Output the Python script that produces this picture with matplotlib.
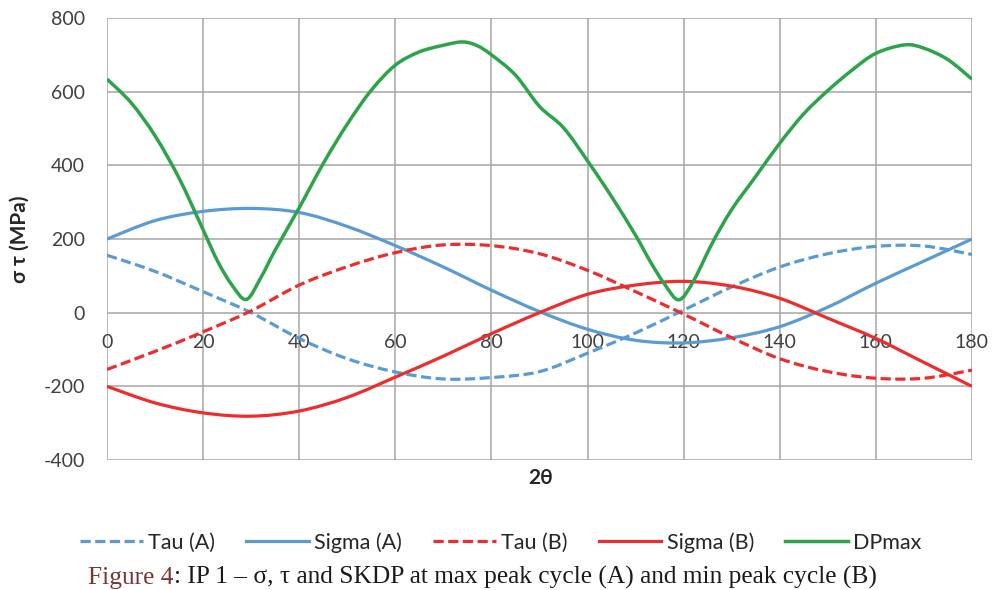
import numpy as np
import matplotlib.pyplot as plt
from matplotlib.path import Path
from matplotlib.patches import PathPatch
from matplotlib.lines import Line2D

plt.rcParams['font.family'] = ['Lato', 'DejaVu Sans']
plt.rcParams['axes.unicode_minus'] = False

# 2theta positions and values (MPa)
theta = [0, 10, 20, 30, 40, 50, 60, 70, 80, 90, 100, 110, 120, 130, 140, 150, 160, 170, 180]
tau_a = [156, 112, 57, 0, -70, -125, -161, -180, -176, -160, -110, -55, 7, 70, 124, 160, 180, 181, 158]
sigma_a = [200, 250, 275, 283, 272, 234, 182, 124, 61, 3, -45, -75, -82, -68, -38, 15, 80, 140, 200]
tau_b = [-154, -105, -52, 5, 75, 125, 163, 184, 182, 160, 115, 57, -4, -68, -125, -160, -178, -178, -156]
sigma_b = [-200, -245, -272, -281, -267, -230, -175, -118, -57, 0, 50, 75, 85, 72, 39, -15, -70, -135, -200]

theta_dp = [0, 5, 10, 15, 20, 23, 26, 29, 32, 35, 40, 45, 50, 55, 60, 65, 70, 74, 77, 80,
            85, 90, 95, 100, 105, 110, 113, 116, 119, 122, 126, 130, 135, 140, 145, 150,
            155, 160, 166, 170, 175, 180]
dp_max = [634, 570, 480, 365, 225, 140, 75, 36, 95, 170, 285, 405, 512, 604, 672, 708, 726, 735, 725, 700,
          645, 560, 502, 412, 315, 210, 140, 78, 35, 85, 190, 280, 370, 460, 540, 603,
          658, 704, 727, 718, 687, 634]

blue = '#5B9BD5'
red = '#EE2C2C'
green = '#2DA449'
dash = (0, (3.2, 1.4))


def smooth_path(x, y):
    # Excel-style smoothed line: cubic bezier between the data points
    p = np.column_stack([x, y]).astype(float)
    ext = np.vstack([p[0], p, p[-1]])
    verts = [p[0]]
    codes = [Path.MOVETO]
    for i in range(len(p) - 1):
        c1 = ext[i + 1] + (ext[i + 2] - ext[i]) / 6
        c2 = ext[i + 2] - (ext[i + 3] - ext[i + 1]) / 6
        verts += [c1, c2, p[i + 1]]
        codes += [Path.CURVE4] * 3
    return Path(verts, codes)


fig = plt.figure(figsize=(9.92, 5.90), dpi=100)
ax = fig.add_axes([0.1079, 0.2203, 0.8719, 0.7492])

series = [
    (theta, tau_a, blue, dash, 2.3, 'Tau (A)'),
    (theta, sigma_a, blue, '-', 2.3, 'Sigma (A)'),
    (theta, tau_b, red, dash, 2.3, 'Tau (B)'),
    (theta, sigma_b, red, '-', 2.3, 'Sigma (B)'),
    (theta_dp, dp_max, green, '-', 2.5, 'DPmax'),
]
handles = []
for x, y, c, ls, lw, lab in series:
    ax.add_patch(PathPatch(smooth_path(x, y), fill=False, edgecolor=c, lw=lw,
                           linestyle=ls, capstyle='butt', joinstyle='round'))
    handles.append(Line2D([], [], color=c, lw=lw, linestyle=ls, label=lab))

ax.set_xlim(0, 180)
ax.set_ylim(-400, 800)
ax.set_xticks(range(0, 181, 20))
ax.set_yticks(range(-400, 801, 200))
ax.grid(True, color='#A6A6A6', lw=1.1)
ax.set_axisbelow(True)
for s in ax.spines.values():
    s.set_visible(False)
ax.spines['bottom'].set_position(('data', 0))
ax.tick_params(axis='both', length=0, labelsize=14, colors='#404040')
ax.tick_params(axis='x', pad=15)
ax.tick_params(axis='y', pad=16)

ax.set_ylabel('σ τ (MPa)', fontsize=15, fontweight='bold', color='#262626', labelpad=10)
fig.text(0.545, 0.19, '2θ', fontsize=15, fontweight='bold', color='#262626',
         ha='center', va='center')

fig.legend(handles=handles, loc='center', bbox_to_anchor=(0.505, 0.081), ncol=5,
           frameon=False, fontsize=15.5, handlelength=2.9, columnspacing=1.45,
           handletextpad=0.25, labelcolor='#262626')

t = fig.text(0.089, 0.002, 'Figure 4', fontsize=18.3, family='Liberation Serif',
             color='#7B3535', ha='left', va='bottom')
ax.annotate(': IP 1 – σ, τ and SKDP at max peak cycle (A) and min peak cycle (B)',
            xy=(1, 0), xycoords=t, fontsize=18.3, family='Liberation Serif',
            color='#1A1A1A', ha='left', va='bottom', annotation_clip=False)

fig.savefig('out.png', dpi=100)
